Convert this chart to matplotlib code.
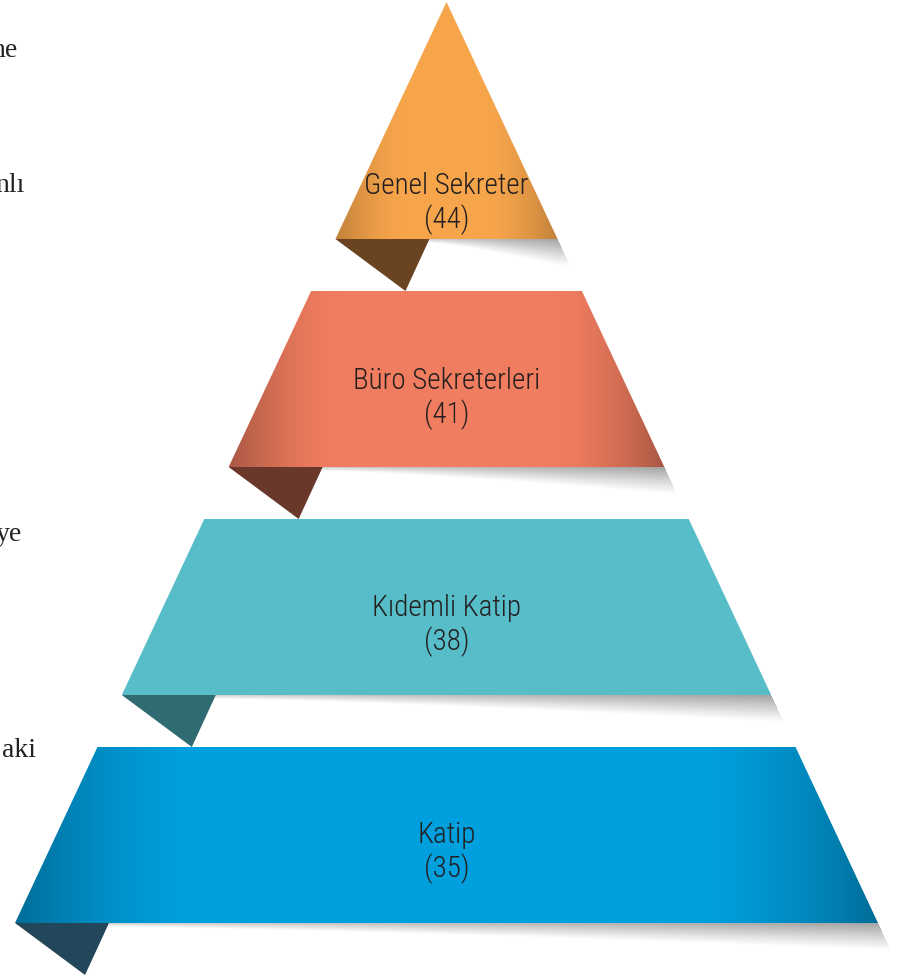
import matplotlib
matplotlib.use('Agg')
import matplotlib.pyplot as plt
import numpy as np
from matplotlib.patches import Polygon
from matplotlib import font_manager

# data
titles = ['Genel Sekreter', 'Büro Sekreterleri', 'Kıdemli Katip', 'Katip']
counts = [44, 41, 38, 35]
side_words = ['ne', 'nlı', 'ye', 'aki']

# styles
band_colors = ['#F7A54B', '#F17D60', '#57BDC8', '#00A0DF']
tab_colors = ['#6A4420', '#6A382B', '#306B72', '#22465A']
edge_depth = [0.22, 0.30, 0.0, 0.32]
edge_width = [70, 110, 1, 190]

# layout (pixels)
W, H = 903, 977
apex_x, apex_y = 446.5, 2
slope = 0.4685
first_bottom = 239
tier_h, gap = 176, 52
tab_w, tab_tip, tab_h = 94, 70, 52
label_off = [53, 86, 87, 88]
line_gap = 34
side_y = [57, 192, 541, 757]
side_x = [18, 25, 22, 36]

avail = {f.name for f in font_manager.fontManager.ttflist}
label_font = 'DejaVu Sans'
for cand in ['Liberation Sans Narrow', 'Roboto Condensed', 'Open Sans Condensed']:
    if cand in avail:
        label_font = cand
        break


def xl(y):
    return apex_x - slope * (y - apex_y)


def xr(y):
    return apex_x + slope * (y - apex_y)


def hex_rgb(c):
    return np.array(matplotlib.colors.to_rgb(c))


fig = plt.figure(figsize=(W / 100, H / 100), dpi=100)
ax = fig.add_axes([0, 0, 1, 1])

for i, (name, n) in enumerate(zip(titles, counts)):
    yb = first_bottom + i * (tier_h + gap)
    yt = apex_y if i == 0 else yb - tier_h

    # band with darker side edges (horizontal shading)
    x0, x1 = int(np.floor(xl(yb))), int(np.ceil(xr(yb)))
    ys = np.arange(int(yt), int(yb) + 1) + 0.5
    xs = np.arange(x0, x1 + 1) + 0.5
    X, Y = np.meshgrid(xs, ys)
    d = np.minimum(X - xl(yb), xr(yb) - X)
    dark = edge_depth[i] * (1 - np.clip(d / edge_width[i], 0, 1)) ** 1.6
    fac = 1 - dark
    img = hex_rgb(band_colors[i])[None, None, :] * fac[:, :, None]
    poly = Polygon([(xl(yt), yt), (xr(yt), yt), (xr(yb), yb), (xl(yb), yb)],
                   closed=True, facecolor='none', edgecolor='none')
    ax.add_patch(poly)
    im = ax.imshow(img, extent=(x0, x1 + 1, ys[-1] + 0.5, ys[0] - 0.5),
                   aspect='auto', interpolation='bilinear', zorder=2)
    im.set_clip_path(poly)

    # shadow under the band
    sx0 = xl(yb) + tab_w
    sx1 = xr(yb)
    sh = 27
    sxs = np.arange(int(sx0), int(sx1 + slope * sh) + 2) + 0.5
    sys_ = np.arange(int(yb), int(yb + sh) + 1) + 0.5
    SX, SY = np.meshgrid(sxs, sys_)
    frac = np.clip((SX - sx0) / (sx1 - sx0), 0, 1)
    thick = 4 + (sh - 4) * frac ** 1.3
    v = (SY - yb) / thick
    a = 0.62 * np.clip(1 - v, 0, 1) ** 1.1 * (0.55 + 0.45 * frac)
    a[SX > sx1 + slope * (SY - yb)] = 0
    simg = np.zeros(SX.shape + (4,))
    simg[..., :3] = 0.42
    simg[..., 3] = a
    ax.imshow(simg, extent=(sxs[0] - 0.5, sxs[-1] + 0.5, sys_[-1] + 0.5, sys_[0] - 0.5),
              aspect='auto', interpolation='bilinear', zorder=1)

    # folded tab
    tx = xl(yb)
    ax.add_patch(Polygon([(tx, yb), (tx + tab_w, yb), (tx + tab_tip, yb + tab_h)],
                         closed=True, facecolor=tab_colors[i], edgecolor='none', zorder=3))

    # labels
    ly = yb - label_off[i]
    for txt, dy in [(name, 0), ('(%d)' % n, line_gap)]:
        ax.text(apex_x, ly + dy, txt, ha='center', va='center', fontsize=21,
                family=label_font, fontstretch='condensed', fontweight='light',
                color='#231f20', zorder=4)

for w, x, y in zip(side_words, side_x, side_y):
    ax.text(x, y, w, ha='right', va='baseline', fontsize=20,
            family='Liberation Serif', color='#222222')

ax.set_xlim(0, W)
ax.set_ylim(H, 0)
ax.axis('off')
fig.savefig('out.png', dpi=100, facecolor='white')
